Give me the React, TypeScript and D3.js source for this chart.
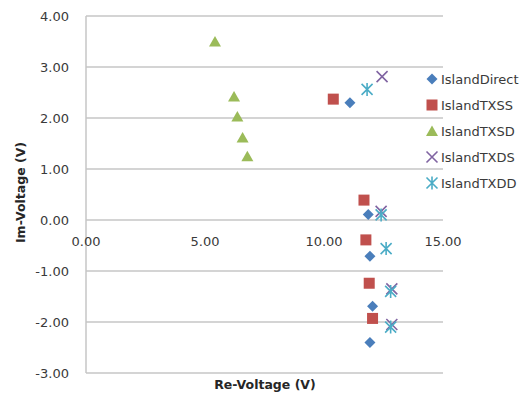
import * as d3 from 'd3';

const seriesNames = ['IslandDirect', 'IslandTXSS', 'IslandTXSD', 'IslandTXDS', 'IslandTXDD'];
const seriesColors = ['#4a7ebb', '#c0504d', '#9bbb59', '#8064a2', '#4bacc6'];

const directRe = [11.09, 11.86, 11.93, 12.04, 11.93];
const directIm = [2.30, 0.11, -0.71, -1.69, -2.40];
const txssRe = [10.39, 11.68, 11.76, 11.9, 12.04];
const txssIm = [2.37, 0.39, -0.39, -1.24, -1.93];
const txsdRe = [5.42, 6.22, 6.36, 6.58, 6.78];
const txsdIm = [3.5, 2.42, 2.03, 1.62, 1.25];
const txdsRe = [12.44, 12.4, 12.85, 12.85];
const txdsIm = [2.81, 0.17, -1.35, -2.05];
const txddRe = [11.81, 12.4, 12.61, 12.8, 12.8];
const txddIm = [2.56, 0.1, -0.56, -1.4, -2.1];

const xTicks = [0, 5, 10, 15];
const yTicks = [4, 3, 2, 1, 0, -1, -2, -3];

const font = '"DejaVu Sans", sans-serif';
// plain hyphen instead of d3's unicode minus
const fmt = (v: number) => d3.format('.2f')(v).replace('\u2212', '-');

function marker(kind: number, x: number, y: number, color: string, key: string) {
  if (kind === 0) {
    const r = 5.5;
    return <path key={key} d={`M${x},${y - r}L${x + r},${y}L${x},${y + r}L${x - r},${y}Z`} fill={color} />;
  }
  if (kind === 1) {
    return <rect key={key} x={x - 5.5} y={y - 5.5} width={11} height={11} fill={color} />;
  }
  if (kind === 2) {
    return <path key={key} d={`M${x},${y - 5.5}L${x + 6},${y + 5}L${x - 6},${y + 5}Z`} fill={color} />;
  }
  const r = 5.5;
  const cross = `M${x - r},${y - r}L${x + r},${y + r}M${x - r},${y + r}L${x + r},${y - r}`;
  const d = kind === 4 ? cross + `M${x},${y - r - 1}L${x},${y + r + 1}` : cross;
  return <path key={key} d={d} stroke={color} strokeWidth={1.6} fill="none" />;
}

export default function App() {
  const width = 529;
  const height = 399;
  const left = 86;
  const right = 443;
  const top = 16;
  const bottom = 373;

  const x = d3.scaleLinear().domain([0, 15]).range([left, right]);
  const y = d3.scaleLinear().domain([-3, 4]).range([bottom, top]);

  const series = [
    [directRe, directIm],
    [txssRe, txssIm],
    [txsdRe, txsdIm],
    [txdsRe, txdsIm],
    [txddRe, txddIm],
  ];

  return (
    <svg width={width} height={height} style={{ position: 'absolute', left: 0, top: 0, background: '#fff' }}>
      {yTicks.map((t) => (
        <g key={'y' + t}>
          <line x1={left} x2={right} y1={y(t)} y2={y(t)} stroke="#c6c6c6" strokeWidth={1.5} />
          <text x={69} y={y(t) + 5} textAnchor="end" fontFamily={font} fontSize={13} fill="#3a3a3a">
            {fmt(t)}
          </text>
        </g>
      ))}
      <line x1={left} x2={left} y1={top} y2={bottom} stroke="#c6c6c6" strokeWidth={1.5} />
      {xTicks.map((t) => (
        <text key={'x' + t} x={x(t)} y={y(0) + 26} textAnchor="middle" fontFamily={font} fontSize={13} fill="#3a3a3a">
          {fmt(t)}
        </text>
      ))}
      {series.map(([re, im], si) =>
        re.map((v, i) => marker(si, x(v), y(im[i]), seriesColors[si], `${si}-${i}`))
      )}
      {seriesNames.map((name, i) => (
        <g key={name}>
          {marker(i, 432, 79 + i * 26, seriesColors[i], 'l' + i)}
          <text x={441} y={79 + i * 26 + 5} fontFamily={font} fontSize={13} fill="#3a3a3a">
            {name}
          </text>
        </g>
      ))}
      <text x={265} y={389} textAnchor="middle" fontFamily={font} fontSize={12.5} fontWeight="bold" fill="#262626">
        Re-Voltage (V)
      </text>
      <text
        transform={`translate(25,${(top + bottom) / 2 - 2}) rotate(-90)`}
        textAnchor="middle"
        fontFamily={font}
        fontSize={12.5}
        fontWeight="bold"
        fill="#262626"
      >
        Im-Voltage (V)
      </text>
    </svg>
  );
}
